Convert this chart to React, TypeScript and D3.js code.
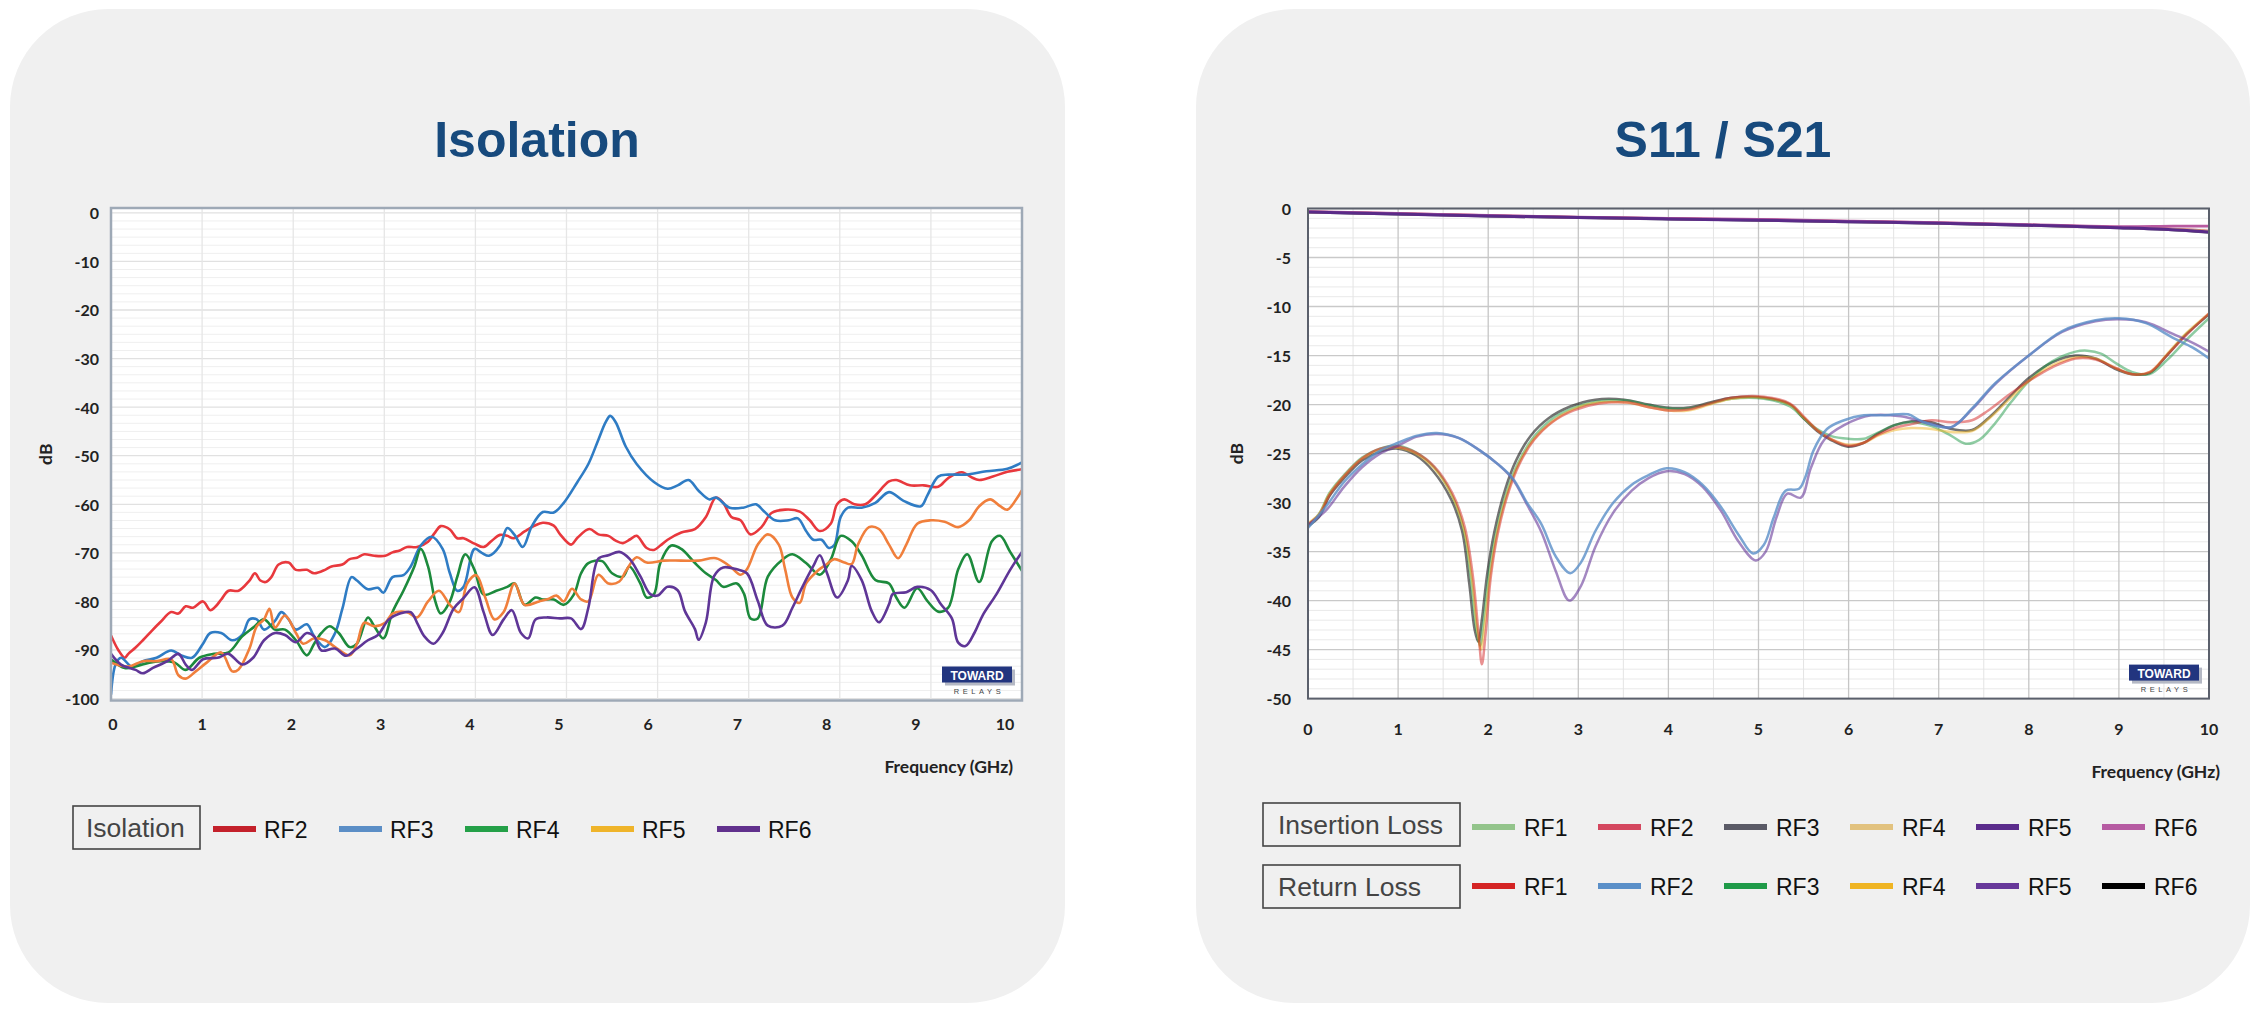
import React from 'react';
import * as d3 from 'd3';

type Pt = [number, number];

// ---------- Isolation chart data (x: GHz, y: dB) ----------
const isoTicksY = [0, -10, -20, -30, -40, -50, -60, -70, -80, -90, -100];
const freqTicks = [0, 1, 2, 3, 4, 5, 6, 7, 8, 9, 10];

const isoRF2: Pt[] = [[0,-87],[0.08,-90],[0.15,-91.6],[0.19,-90.8],[0.27,-89.5],[0.35,-88],[0.45,-86],[0.54,-84.3],[0.66,-82.2],[0.74,-82.5],[0.82,-81],[0.9,-81.3],[1.01,-80],[1.09,-81.8],[1.15,-81],[1.21,-79.6],[1.29,-77.8],[1.4,-77.8],[1.52,-75.7],[1.58,-74.2],[1.64,-75.7],[1.7,-76],[1.76,-75],[1.84,-72.4],[1.95,-72],[2.03,-73.5],[2.15,-73.5],[2.23,-74.2],[2.35,-73.5],[2.42,-72.8],[2.54,-72.4],[2.62,-71.3],[2.7,-71],[2.78,-70.3],[2.89,-70.6],[3.01,-70.6],[3.09,-69.9],[3.17,-69.5],[3.25,-68.8],[3.36,-68.8],[3.48,-67.7],[3.55,-66],[3.62,-64.5],[3.72,-65.2],[3.8,-67],[3.87,-67],[3.99,-68.1],[4.09,-68.8],[4.18,-67.5],[4.27,-66.3],[4.35,-66.5],[4.42,-67],[4.54,-65.6],[4.64,-64.5],[4.74,-63.8],[4.86,-64.4],[4.93,-66.2],[5.05,-68.3],[5.12,-66.9],[5.25,-65.1],[5.35,-66.2],[5.46,-66.5],[5.54,-67.5],[5.62,-68],[5.7,-67.2],[5.77,-66.5],[5.88,-69],[5.96,-69.4],[6.03,-68.5],[6.11,-67.3],[6.26,-65.8],[6.41,-65.1],[6.53,-62.6],[6.64,-58.6],[6.72,-59.7],[6.81,-62.6],[6.91,-63.3],[7.02,-66.2],[7.14,-64.7],[7.25,-61.8],[7.4,-61.1],[7.56,-61.5],[7.67,-63.3],[7.78,-65.5],[7.9,-64],[7.97,-60],[8.05,-59],[8.16,-60],[8.28,-60],[8.39,-58.2],[8.54,-55.3],[8.62,-55],[8.77,-56.1],[8.92,-56.1],[9.08,-56.4],[9.19,-54.6],[9.34,-53.4],[9.45,-54.5],[9.53,-55],[9.68,-54.3],[9.84,-53.3],[10,-52.8]];

const isoRF3: Pt[] = [[0,-99.2],[0.05,-93],[0.11,-91.6],[0.23,-93.4],[0.35,-92.3],[0.5,-91.6],[0.66,-90.1],[0.78,-91.2],[0.89,-91.6],[1.01,-88.7],[1.09,-86.5],[1.21,-86.5],[1.33,-88],[1.44,-86.9],[1.52,-83.7],[1.6,-83.7],[1.68,-85.8],[1.8,-84],[1.87,-82.2],[1.95,-83.7],[2.03,-85.8],[2.15,-84.7],[2.23,-87.2],[2.35,-89.4],[2.46,-86.5],[2.54,-81.5],[2.64,-75],[2.7,-75.7],[2.82,-77.5],[2.93,-77.2],[2.99,-78.2],[3.09,-75],[3.21,-74.6],[3.29,-72.8],[3.4,-68.5],[3.52,-66.7],[3.64,-69.2],[3.72,-74.2],[3.8,-77.8],[3.87,-77],[3.99,-69.2],[4.07,-70],[4.15,-70.6],[4.27,-68.5],[4.35,-64.9],[4.43,-66.3],[4.52,-68.8],[4.62,-64.5],[4.74,-61.6],[4.86,-61.7],[4.97,-59.7],[5.12,-55.4],[5.24,-51.7],[5.35,-46.7],[5.43,-43.1],[5.48,-41.8],[5.54,-43.1],[5.65,-48.1],[5.77,-51.7],[5.96,-55.4],[6.11,-56.8],[6.22,-56.1],[6.34,-55],[6.45,-57.2],[6.57,-59],[6.64,-58.6],[6.79,-60.7],[6.94,-60.7],[7.08,-60],[7.17,-61.5],[7.29,-63.3],[7.44,-63.3],[7.54,-62.9],[7.63,-65.5],[7.71,-67.3],[7.8,-67.3],[7.88,-69],[7.94,-68.4],[8.01,-62.6],[8.09,-60.7],[8.24,-60.7],[8.39,-59.7],[8.54,-57.5],[8.7,-59.3],[8.89,-60.4],[8.96,-58.2],[9.08,-54.3],[9.19,-53.9],[9.38,-53.9],[9.61,-53.2],[9.84,-52.7],[10,-51.4]];

const isoRF4: Pt[] = [[0,-91.9],[0.15,-93.7],[0.27,-93.4],[0.42,-92.6],[0.54,-92.3],[0.7,-92.6],[0.82,-94.1],[0.97,-91.6],[1.13,-90.8],[1.29,-90.5],[1.44,-87.2],[1.56,-85.4],[1.68,-83.7],[1.8,-85.8],[1.91,-85.8],[2.03,-88],[2.15,-91.1],[2.23,-88.7],[2.31,-86.5],[2.4,-85.1],[2.5,-86.5],[2.62,-89.4],[2.7,-88.7],[2.82,-83.3],[2.89,-85.1],[2.99,-87.6],[3.09,-82.2],[3.21,-77.8],[3.33,-72.8],[3.4,-69.2],[3.48,-72.8],[3.56,-80],[3.62,-82.5],[3.72,-80],[3.8,-75],[3.89,-70.3],[3.99,-73.5],[4.09,-78.6],[4.23,-77.8],[4.35,-77],[4.43,-76.3],[4.54,-80.7],[4.66,-79.2],[4.74,-79.6],[4.86,-79.6],[4.97,-80.7],[5.08,-78.6],[5.16,-74.2],[5.24,-72.1],[5.39,-71.7],[5.5,-74.2],[5.62,-74.9],[5.69,-72.8],[5.81,-76.3],[5.88,-79.2],[5.96,-78.5],[6.03,-72.1],[6.15,-68.5],[6.26,-69.2],[6.41,-72.1],[6.53,-74.2],[6.64,-75.6],[6.72,-77],[6.87,-76.3],[6.95,-78.5],[7.02,-83.5],[7.1,-83.5],[7.21,-74.9],[7.37,-71.4],[7.48,-70.3],[7.63,-72.1],[7.78,-74.5],[7.9,-71.4],[8.01,-66.5],[8.13,-67.6],[8.24,-70.5],[8.39,-75.6],[8.54,-76.3],[8.62,-79.2],[8.71,-81.3],[8.85,-77.3],[8.96,-79.9],[9.08,-82.1],[9.19,-81.3],[9.3,-73.4],[9.4,-70.3],[9.53,-76],[9.67,-67.6],[9.76,-66.5],[9.87,-69.8],[10,-73.7]];

const isoRF5: Pt[] = [[0,-92.6],[0.19,-93.4],[0.35,-92.3],[0.5,-92.3],[0.66,-91.9],[0.74,-95.2],[0.82,-95.9],[0.93,-94.4],[1.05,-92.6],[1.21,-90.5],[1.33,-94.4],[1.4,-94],[1.52,-89.7],[1.6,-85.1],[1.68,-83.7],[1.74,-81.5],[1.8,-85.4],[1.91,-82.9],[2.03,-86.5],[2.11,-88.7],[2.23,-87.6],[2.35,-88],[2.46,-89.4],[2.62,-91.1],[2.7,-88.7],[2.78,-84.4],[2.89,-85.1],[3.01,-84.4],[3.09,-82.5],[3.25,-82.2],[3.36,-83.3],[3.48,-80],[3.6,-77.8],[3.72,-80.7],[3.82,-82.2],[3.91,-76.3],[4.01,-74.6],[4.11,-79.3],[4.21,-83.7],[4.31,-82.2],[4.43,-76.3],[4.54,-80.7],[4.7,-80],[4.8,-79.5],[4.89,-78.8],[4.97,-80],[5.06,-77.4],[5.16,-79.6],[5.24,-80],[5.35,-74.5],[5.46,-76.3],[5.58,-75.9],[5.65,-73.8],[5.77,-70.9],[5.88,-72],[6.07,-71.6],[6.26,-71.6],[6.45,-71.6],[6.64,-71.1],[6.79,-72.7],[6.91,-74.5],[6.98,-73.4],[7.1,-68.3],[7.21,-66.2],[7.33,-68.3],[7.4,-73.4],[7.48,-79.2],[7.56,-80.3],[7.63,-76.3],[7.75,-73.8],[7.86,-72.3],[7.94,-71.3],[8.05,-72],[8.13,-72.3],[8.2,-68.3],[8.32,-64.7],[8.43,-65.1],[8.54,-68.3],[8.64,-71.1],[8.73,-68.3],[8.85,-64],[9,-63.3],[9.15,-63.6],[9.3,-64.7],[9.42,-63.3],[9.53,-60.4],[9.65,-59],[9.76,-60.4],[9.84,-61.1],[9.95,-58.6],[10,-57.1]];

const isoRF6: Pt[] = [[0,-90.8],[0.11,-93],[0.27,-94.1],[0.35,-94.8],[0.46,-93.7],[0.62,-92.3],[0.74,-90.8],[0.82,-93],[0.89,-94.1],[1.01,-91.9],[1.17,-91.6],[1.29,-90.8],[1.44,-93],[1.56,-91.6],[1.68,-88],[1.8,-86.5],[1.91,-86.9],[2.03,-88.4],[2.15,-86.5],[2.23,-87.2],[2.31,-90.1],[2.46,-89.7],[2.58,-91.2],[2.7,-89.7],[2.82,-88],[2.93,-86.9],[3.05,-83.7],[3.17,-82.5],[3.29,-82.2],[3.36,-84.4],[3.44,-87.2],[3.54,-88.7],[3.64,-86.5],[3.76,-81.5],[3.87,-79.3],[3.99,-77.1],[4.09,-82.2],[4.19,-86.9],[4.31,-83.7],[4.4,-81.8],[4.5,-86.5],[4.58,-87.6],[4.66,-83.7],[4.78,-83.3],[4.93,-83.5],[5.05,-83.5],[5.16,-85.7],[5.24,-81.3],[5.35,-71.2],[5.46,-70.5],[5.58,-69.8],[5.69,-71.2],[5.81,-74.8],[5.92,-78.5],[6,-78.8],[6.11,-77],[6.22,-77.7],[6.3,-82],[6.41,-85.7],[6.45,-87.9],[6.53,-84.3],[6.62,-74.8],[6.72,-73],[6.87,-73.4],[6.98,-74.2],[7.1,-79.9],[7.21,-85],[7.37,-85],[7.48,-81.3],[7.59,-77],[7.71,-72.7],[7.78,-70.5],[7.86,-74.2],[7.97,-79.2],[8.09,-75.6],[8.13,-72.7],[8.24,-75.6],[8.35,-82],[8.43,-84.3],[8.54,-80.6],[8.58,-78.5],[8.73,-78.1],[8.85,-77],[9,-77.7],[9.11,-80.6],[9.23,-83.5],[9.3,-88.5],[9.38,-89.2],[9.48,-86.4],[9.57,-82.8],[9.72,-78.5],[9.87,-73.5],[10,-69.8]];

const isoNames = ['RF2', 'RF3', 'RF4', 'RF5', 'RF6'];
const isoSeries = [isoRF2, isoRF3, isoRF4, isoRF5, isoRF6];
const isoLineColors = ['#e8383d', '#2f7cc4', '#1c8a3c', '#f07f3c', '#5f3697'];
const isoLegendColors = ['#c4212b', '#5b8ec6', '#24a048', '#efb42a', '#61318d'];

// ---------- S11 / S21 chart data ----------
const sTicksY = [0, -5, -10, -15, -20, -25, -30, -35, -40, -45, -50];

const ilRF1: Pt[] = [[0,-0.35],[1,-0.55],[2,-0.75],[3,-0.92],[4,-1.05],[5,-1.18],[6,-1.33],[7,-1.5],[8,-1.7],[9,-1.95],[9.5,-2.1],[10,-2.35]];
const ilRF2: Pt[] = [[0,-0.33],[1,-0.52],[2,-0.72],[3,-0.9],[4,-1.03],[5,-1.15],[6,-1.3],[7,-1.47],[8,-1.68],[9,-1.92],[9.5,-2.05],[10,-2.3]];
const ilRF3: Pt[] = [[0,-0.38],[1,-0.58],[2,-0.78],[3,-0.95],[4,-1.08],[5,-1.22],[6,-1.36],[7,-1.53],[8,-1.73],[9,-1.98],[9.5,-2.15],[10,-2.45]];
const ilRF4: Pt[] = [[0,-0.34],[1,-0.54],[2,-0.74],[3,-0.91],[4,-1.04],[5,-1.17],[6,-1.32],[7,-1.49],[8,-1.69],[9,-1.94],[9.5,-2.08],[10,-2.33]];
const ilRF5: Pt[] = [[0,-0.36],[1,-0.56],[2,-0.76],[3,-0.93],[4,-1.06],[5,-1.19],[6,-1.34],[7,-1.51],[8,-1.71],[9,-1.96],[9.5,-2.12],[10,-2.4]];
const ilRF6: Pt[] = [[0,-0.3],[1,-0.5],[2,-0.7],[3,-0.87],[4,-1.0],[5,-1.1],[6,-1.27],[7,-1.44],[8,-1.64],[9,-1.85],[9.6,-1.8],[10,-1.8]];

const rlRF1: Pt[] = [[0,-32.2],[0.12,-31.3],[0.24,-29.2],[0.4,-27.3],[0.6,-25.5],[0.8,-24.5],[1,-24.3],[1.2,-24.9],[1.4,-26.3],[1.6,-29],[1.74,-32.5],[1.83,-37.5],[1.89,-43],[1.93,-46.5],[1.97,-43.5],[2.03,-37.5],[2.11,-33],[2.23,-28.8],[2.35,-26],[2.51,-23.6],[2.71,-21.8],[2.95,-20.6],[3.23,-19.9],[3.55,-19.8],[3.8,-20.3],[4,-20.6],[4.22,-20.5],[4.46,-19.9],[4.7,-19.3],[5.06,-19.2],[5.35,-19.9],[5.5,-21.2],[5.65,-22.6],[5.8,-23.5],[6,-24.2],[6.17,-23.9],[6.32,-23.1],[6.51,-22.4],[6.7,-22],[6.92,-21.6],[7.14,-21.8],[7.37,-21.6],[7.55,-20.6],[7.78,-19],[8,-17.6],[8.26,-16.2],[8.52,-15.3],[8.74,-15.4],[8.97,-16.3],[9.15,-16.9],[9.34,-16.7],[9.53,-15],[9.75,-12.9],[10,-10.7]];
const rlRF2: Pt[] = [[0,-32.6],[0.2,-30.4],[0.4,-27.9],[0.6,-26.1],[0.8,-24.7],[1,-23.9],[1.2,-23.2],[1.43,-22.9],[1.67,-23.4],[1.91,-24.7],[2.11,-26.1],[2.27,-27.5],[2.43,-30],[2.59,-32.2],[2.75,-35.5],[2.91,-37.2],[3.03,-36.1],[3.19,-32.9],[3.39,-30],[3.59,-28.2],[3.78,-27.2],[3.98,-26.5],[4.18,-26.9],[4.38,-28.2],[4.58,-30.4],[4.78,-33.3],[4.94,-35.2],[5.06,-34.3],[5.17,-31.5],[5.3,-28.8],[5.45,-28.6],[5.52,-27.4],[5.61,-24.7],[5.76,-22.5],[5.95,-21.6],[6.17,-21.1],[6.4,-21.1],[6.66,-21],[6.81,-21.7],[7.14,-22.3],[7.37,-20.4],[7.63,-17.8],[8,-15],[8.37,-12.5],[8.74,-11.4],[9,-11.2],[9.3,-11.7],[9.6,-13.2],[9.82,-14.2],[10,-15.3]];
const rlRF3: Pt[] = [[0,-32.3],[0.12,-31.2],[0.24,-29],[0.4,-27.2],[0.6,-25.4],[0.8,-24.5],[1,-24.2],[1.2,-24.9],[1.4,-26.4],[1.6,-29.3],[1.73,-32.8],[1.81,-38],[1.87,-43],[1.91,-44.6],[1.95,-42],[2.01,-37.2],[2.09,-33],[2.21,-28.8],[2.33,-26],[2.49,-23.5],[2.69,-21.6],[2.93,-20.4],[3.21,-19.7],[3.53,-19.6],[3.8,-20.1],[4,-20.4],[4.22,-20.4],[4.46,-19.9],[4.7,-19.4],[5.06,-19.4],[5.35,-20.2],[5.5,-21.4],[5.65,-22.5],[5.8,-23.2],[6,-23.5],[6.17,-23.5],[6.32,-22.9],[6.51,-22.1],[6.7,-21.8],[6.92,-22.2],[7.14,-23.2],[7.3,-24],[7.45,-23.6],[7.6,-22.2],[7.8,-19.8],[8,-17.6],[8.26,-15.6],[8.52,-14.6],[8.65,-14.5],[8.8,-14.8],[8.97,-15.8],[9.15,-16.7],[9.34,-16.9],[9.53,-15.5],[9.75,-13.4],[10,-11.2]];
const rlRF4: Pt[] = [[0,-32.1],[0.12,-31.2],[0.24,-29.1],[0.4,-27.3],[0.6,-25.5],[0.8,-24.6],[1,-24.4],[1.2,-25],[1.4,-26.5],[1.6,-29.3],[1.73,-32.7],[1.82,-37.8],[1.88,-43],[1.92,-45],[1.96,-42.5],[2.02,-37.5],[2.1,-33],[2.22,-28.8],[2.34,-26],[2.5,-23.6],[2.7,-21.8],[2.94,-20.5],[3.22,-19.8],[3.54,-19.8],[3.8,-20.3],[4,-20.6],[4.22,-20.6],[4.46,-20],[4.7,-19.4],[5.06,-19.3],[5.35,-20],[5.5,-21.3],[5.65,-22.6],[5.8,-23.5],[6,-24.1],[6.17,-23.9],[6.32,-23.2],[6.51,-22.6],[6.7,-22.4],[6.92,-22.5],[7.14,-22.8],[7.37,-22.7],[7.55,-21.5],[7.78,-19.5],[8,-17.6],[8.26,-16],[8.52,-15.2],[8.74,-15.3],[8.97,-16.3],[9.15,-16.9],[9.34,-16.7],[9.53,-14.9],[9.75,-12.7],[10,-10.7]];
const rlRF5: Pt[] = [[0,-32.3],[0.2,-30.8],[0.4,-28.4],[0.6,-26.4],[0.8,-25],[1,-24.2],[1.2,-23.3],[1.43,-23],[1.67,-23.4],[1.91,-24.7],[2.11,-26.1],[2.27,-27.6],[2.43,-30.2],[2.59,-33],[2.75,-37],[2.9,-40],[3.03,-38.5],[3.19,-34.5],[3.39,-31],[3.59,-28.8],[3.78,-27.5],[3.98,-26.8],[4.18,-27.1],[4.38,-28.4],[4.58,-30.8],[4.78,-34],[4.97,-35.9],[5.08,-35],[5.2,-31.5],[5.32,-29.1],[5.47,-29.5],[5.58,-26.5],[5.73,-23.6],[5.95,-22.1],[6.25,-21.1],[6.58,-21.2],[6.92,-22],[7.14,-22.3],[7.37,-20.5],[7.63,-17.9],[8,-15],[8.37,-12.6],[8.74,-11.5],[9,-11.3],[9.3,-11.6],[9.6,-12.8],[9.82,-13.7],[10,-14.6]];
const rlRF6: Pt[] = [[0,-32.4],[0.12,-31.5],[0.24,-29.3],[0.4,-27.5],[0.6,-25.7],[0.8,-24.8],[1,-24.5],[1.2,-25.2],[1.39,-26.8],[1.59,-29.7],[1.71,-32.9],[1.79,-38.3],[1.85,-43],[1.89,-44.2],[1.93,-41.9],[1.99,-37.2],[2.07,-32.9],[2.19,-28.6],[2.31,-25.7],[2.47,-23.2],[2.67,-21.4],[2.91,-20.2],[3.19,-19.5],[3.51,-19.5],[3.78,-20],[3.98,-20.3],[4.22,-20.3],[4.46,-19.8],[4.7,-19.3],[5.06,-19.3],[5.35,-20],[5.5,-21.4],[5.65,-22.7],[5.8,-23.6],[5.99,-24.3],[6.17,-23.9],[6.32,-23],[6.51,-22.1],[6.7,-21.7],[6.92,-21.8],[7.14,-22.5],[7.37,-22.6],[7.55,-21.4],[7.78,-19.3],[8,-17.3],[8.26,-15.7],[8.52,-15],[8.74,-15.3],[8.97,-16.4],[9.15,-16.9],[9.34,-16.8],[9.53,-15],[9.75,-12.8],[10,-10.8]];

const rfNames = ['RF1', 'RF2', 'RF3', 'RF4', 'RF5', 'RF6'];
const ilSeries = [ilRF1, ilRF2, ilRF3, ilRF4, ilRF6, ilRF5];
const ilDrawColors = ['#8fc08a', '#d04a62', '#5b5b6b', '#e0c07e', '#b85aa0', '#5a2a88'];
const ilLegendColors = ['#93c48b', '#d4475f', '#5a5a66', '#e2c27f', '#5b2c8c', '#b65ba2'];
const rlSeries = [rlRF6, rlRF3, rlRF4, rlRF1, rlRF5, rlRF2];
const rlDrawColors = ['#000000', '#1f9a48', '#efb422', '#d42424', '#67389a', '#5a8fc8'];
const rlOpacity = [0.55, 0.5, 0.5, 0.5, 0.6, 0.8];
const rlLegendColors = ['#d42424', '#5a8fc8', '#1f9a48', '#efb422', '#67389a', '#000000'];

const FONT_UI = "'Liberation Sans', Arial, sans-serif";
const FONT_AX = "Lato, 'Open Sans', sans-serif";

function Panel({ x, w }: { x: number; w: number }) {
  return <rect x={x} y={9} width={w} height={994} rx={98} ry={98} fill="#f0f0f0" />;
}

function Logo({ right, bottom }: { right: number; bottom: number }) {
  const bw = 70, bh = 16;
  const x = right - bw - 10;
  const y = bottom - 34;
  return (
    <g>
      <rect x={x + 3} y={y + 3} width={bw} height={bh} fill="#b4b8c4" />
      <rect x={x} y={y} width={bw} height={bh} fill="#22357f" />
      <text x={x + bw / 2} y={y + bh / 2 + 1} textAnchor="middle" dominantBaseline="central"
        fontFamily={FONT_UI} fontWeight={700} fontSize={12} fill="#fff">TOWARD</text>
      <text x={x + bw / 2 + 2} y={y + bh + 9} textAnchor="middle" dominantBaseline="central"
        fontFamily={FONT_UI} fontSize={7.5} letterSpacing={3.6} fill="#444">RELAYS</text>
    </g>
  );
}

export default function App() {
  // ---------- left chart scales ----------
  const lx = d3.scaleLinear().domain([0, 10]).range([111, 1022]);
  const lxLabel = d3.scaleLinear().domain([0, 10]).range([113, 1005]);
  const ly = d3.scaleLinear().domain([-100.4, 1.0]).range([700.5, 208]);
  const isoLine = d3.line<Pt>().x(d => lx(d[0])).y(d => ly(d[1])).curve(d3.curveCatmullRom.alpha(0.5));

  const isoMinor: number[] = [];
  for (let i = 0; i <= 60; i++) {
    if (i % 6 !== 0) isoMinor.push(-i * (10 / 6));
  }

  // ---------- right chart scales ----------
  const rx = d3.scaleLinear().domain([0, 10]).range([1308, 2209]);
  const ry = d3.scaleLinear().domain([-50, 0]).range([698.6, 208.5]);
  const sLine = d3.line<Pt>().x(d => rx(d[0])).y(d => ry(d[1])).curve(d3.curveCatmullRom.alpha(0.5));
  const sMinorY = d3.range(0, 51).filter(v => v % 5 !== 0).map(v => -v);
  const sHalfX = d3.range(0.5, 10, 1);

  const [lx0, lx1] = lx.range();
  const [ly1, ly0] = ly.range();
  const [rx0, rx1] = rx.range();
  const [ry1, ry0] = ry.range();

  const legendStep = 126;
  const tickFont = 16;
  const titleFont = 17.5;

  return (
    <svg width={2259} height={1013} viewBox="0 0 2259 1013"
      style={{ position: 'absolute', left: 0, top: 0, background: '#ffffff' }}>
      <defs>
        <clipPath id="clipL"><rect x={lx0} y={ly0} width={lx1 - lx0} height={ly1 - ly0} /></clipPath>
        <clipPath id="clipR"><rect x={rx0} y={ry0} width={rx1 - rx0} height={ry1 - ry0} /></clipPath>
      </defs>
      <rect x={0} y={0} width={2259} height={1013} fill="#ffffff" />

      {/* ================= LEFT PANEL ================= */}
      <Panel x={10} w={1055} />
      <text x={537} y={157} textAnchor="middle" fontFamily={FONT_UI} fontWeight={700}
        fontSize={50} fill="#174a7d">Isolation</text>

      <rect x={lx0} y={ly0} width={lx1 - lx0} height={ly1 - ly0} fill="#ffffff" />
      {isoMinor.map(v => (
        <line key={'lm' + v} x1={lx0} x2={lx1} y1={ly(v)} y2={ly(v)} stroke="#efefef" strokeWidth={1} />
      ))}
      {isoTicksY.map(v => (
        <line key={'lM' + v} x1={lx0} x2={lx1} y1={ly(v)} y2={ly(v)} stroke="#e1e1e1" strokeWidth={1.3} />
      ))}
      {freqTicks.slice(1, 10).map(v => (
        <line key={'lv' + v} x1={lx(v)} x2={lx(v)} y1={ly0} y2={ly1} stroke="#e6e6e6" strokeWidth={1.3} />
      ))}
      <g clipPath="url(#clipL)">
        {isoSeries.map((s, i) => (
          <path key={isoNames[i]} d={isoLine(s) || ''} fill="none" stroke={isoLineColors[i]}
            strokeWidth={2.6} strokeLinejoin="round" />
        ))}
      </g>
      <rect x={lx0} y={ly0} width={lx1 - lx0} height={ly1 - ly0} fill="none" stroke="#9ea9b6" strokeWidth={2.5} />
      <Logo right={lx1} bottom={ly1} />

      {isoTicksY.map(v => (
        <text key={'lyt' + v} x={99} y={ly(v)} textAnchor="end" dominantBaseline="central"
          fontFamily={FONT_AX} fontWeight={700} fontSize={tickFont} fill="#222">{v}</text>
      ))}
      {freqTicks.map(v => (
        <text key={'lxt' + v} x={lxLabel(v)} y={723} textAnchor="middle" dominantBaseline="central"
          fontFamily={FONT_AX} fontWeight={700} fontSize={tickFont} fill="#222">{v}</text>
      ))}
      <text transform={`translate(45,${(ly0 + ly1) / 2}) rotate(-90)`} textAnchor="middle" dominantBaseline="central"
        fontFamily={FONT_AX} fontWeight={700} fontSize={titleFont} fill="#222">dB</text>
      <text x={1013} y={766} textAnchor="end" dominantBaseline="central"
        fontFamily={FONT_AX} fontWeight={700} fontSize={titleFont} fill="#222">Frequency (GHz)</text>

      {/* left legend */}
      <rect x={73} y={806} width={127} height={43} fill="none" stroke="#454545" strokeWidth={1.6} />
      <text x={86} y={828} dominantBaseline="central" fontFamily={FONT_UI} fontSize={26.5} fill="#444">Isolation</text>
      {isoNames.map((n, i) => (
        <g key={'lg' + n}>
          <rect x={213 + i * legendStep} y={826} width={43} height={6} fill={isoLegendColors[i]} />
          <text x={264 + i * legendStep} y={830} dominantBaseline="central" fontFamily={FONT_UI}
            fontSize={23} fill="#111">{n}</text>
        </g>
      ))}

      {/* ================= RIGHT PANEL ================= */}
      <Panel x={1196} w={1054} />
      <text x={1723} y={157} textAnchor="middle" fontFamily={FONT_UI} fontWeight={700}
        fontSize={50} fill="#174a7d">S11 / S21</text>

      <rect x={rx0} y={ry0} width={rx1 - rx0} height={ry1 - ry0} fill="#ffffff" />
      {sMinorY.map(v => (
        <line key={'rm' + v} x1={rx0} x2={rx1} y1={ry(v)} y2={ry(v)} stroke="#e9e9e9" strokeWidth={1} />
      ))}
      {sHalfX.map(v => (
        <line key={'rh' + v} x1={rx(v)} x2={rx(v)} y1={ry0} y2={ry1} stroke="#e4e4e4" strokeWidth={1} />
      ))}
      {sTicksY.map(v => (
        <line key={'rM' + v} x1={rx0} x2={rx1} y1={ry(v)} y2={ry(v)} stroke="#c9c9c9" strokeWidth={1.3} />
      ))}
      {freqTicks.slice(1, 10).map(v => (
        <line key={'rv' + v} x1={rx(v)} x2={rx(v)} y1={ry0} y2={ry1} stroke="#c6c6c6" strokeWidth={1.3} />
      ))}
      <g clipPath="url(#clipR)">
        {rlSeries.map((s, i) => (
          <path key={'rl' + i} d={sLine(s) || ''} fill="none" stroke={rlDrawColors[i]}
            strokeOpacity={rlOpacity[i]} strokeWidth={2.5} strokeLinejoin="round" />
        ))}
        {ilSeries.map((s, i) => (
          <path key={'il' + i} d={sLine(s) || ''} fill="none" stroke={ilDrawColors[i]}
            strokeWidth={i === 5 ? 3 : 2.6} strokeLinejoin="round" />
        ))}
      </g>
      <rect x={rx0} y={ry0} width={rx1 - rx0} height={ry1 - ry0} fill="none" stroke="#5b606c" strokeWidth={2} />
      <Logo right={rx1} bottom={ry1} />

      {sTicksY.map(v => (
        <text key={'ryt' + v} x={1291} y={ry(v)} textAnchor="end" dominantBaseline="central"
          fontFamily={FONT_AX} fontWeight={700} fontSize={tickFont} fill="#222">{v}</text>
      ))}
      {freqTicks.map(v => (
        <text key={'rxt' + v} x={rx(v)} y={728} textAnchor="middle" dominantBaseline="central"
          fontFamily={FONT_AX} fontWeight={700} fontSize={tickFont} fill="#222">{v}</text>
      ))}
      <text transform={`translate(1236,${(ry0 + ry1) / 2}) rotate(-90)`} textAnchor="middle" dominantBaseline="central"
        fontFamily={FONT_AX} fontWeight={700} fontSize={titleFont} fill="#222">dB</text>
      <text x={2220} y={771} textAnchor="end" dominantBaseline="central"
        fontFamily={FONT_AX} fontWeight={700} fontSize={titleFont} fill="#222">Frequency (GHz)</text>

      {/* right legend */}
      <rect x={1263} y={803} width={197} height={43} fill="none" stroke="#454545" strokeWidth={1.6} />
      <text x={1278} y={825} dominantBaseline="central" fontFamily={FONT_UI} fontSize={26.5} fill="#444">Insertion Loss</text>
      <rect x={1263} y={865} width={197} height={43} fill="none" stroke="#454545" strokeWidth={1.6} />
      <text x={1278} y={887} dominantBaseline="central" fontFamily={FONT_UI} fontSize={26.5} fill="#444">Return Loss</text>
      {rfNames.map((n, i) => (
        <g key={'rg' + n}>
          <rect x={1472 + i * legendStep} y={824} width={43} height={6} fill={ilLegendColors[i]} />
          <text x={1524 + i * legendStep} y={828} dominantBaseline="central" fontFamily={FONT_UI}
            fontSize={23} fill="#111">{n}</text>
          <rect x={1472 + i * legendStep} y={883} width={43} height={6} fill={rlLegendColors[i]} />
          <text x={1524 + i * legendStep} y={887} dominantBaseline="central" fontFamily={FONT_UI}
            fontSize={23} fill="#111">{n}</text>
        </g>
      ))}
    </svg>
  );
}
